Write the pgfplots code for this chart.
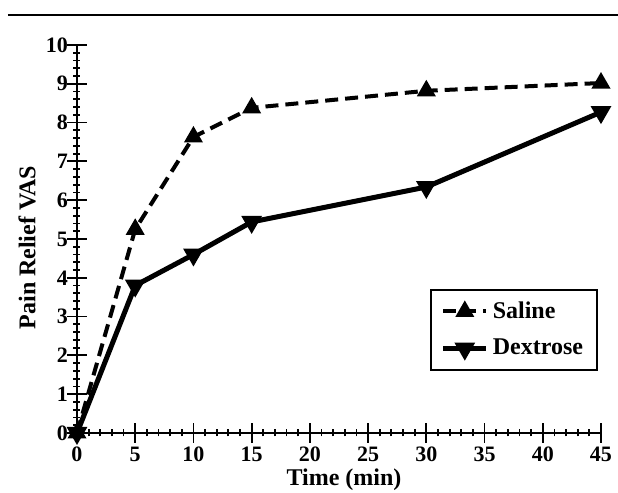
\documentclass[border=0pt]{standalone}
\usepackage{fontspec}
\setmainfont{Liberation Serif}
\usepackage{pgfplots}
\pgfplotsset{compat=1.18}
\begin{document}
\begin{tikzpicture}
\useasboundingbox (-38.5pt,-30pt) rectangle (270.5pt,216.5pt);
\draw[line width=1pt] (-34.5pt,209pt) -- (270.5pt,209pt);
\begin{axis}[
  at={(0pt,0pt)}, anchor=south west,
  scale only axis, width=262pt, height=194pt,
  xmin=0, xmax=45, ymin=0, ymax=10,
  clip=false,
  axis lines*=left,
  axis line style={line width=1pt, -},
  xtick={0,5,...,45}, ytick={0,1,...,10},
  minor x tick num=4, minor y tick num=4,
  tick align=center,
  major tick length=10pt, minor tick length=3.5pt,
  every tick/.style={black, line width=0.9pt},
  /pgf/number format/assume math mode=true,
  ticklabel style={font=\fontsize{11}{13}\selectfont\bfseries},
  xticklabel style={yshift=1.5pt},
  yticklabel style={xshift=4pt},
  xlabel={Time (min)}, ylabel={Pain Relief VAS},
  label style={font=\fontsize{12}{14}\selectfont\bfseries},
  xlabel style={at={(axis description cs:0.5095,-0.1366)}, anchor=base},
  ylabel style={at={(axis description cs:-0.0954,0.478)}, anchor=center},
  legend style={at={(axis description cs:0.9943,0.1598)}, anchor=south east,
    font=\fontsize{12}{14}\selectfont\bfseries, draw=black, line width=1pt,
    inner xsep=5pt, inner ysep=4pt, row sep=5pt},
  legend cell align=left,
  legend image code/.code={\draw[mark repeat=2,mark phase=2,#1] plot coordinates {(0pt,0pt)(10.75pt,0pt)(21.5pt,0pt)};},
]
\addplot[black, line width=2pt, dash pattern=on 6.5pt off 3.5pt, mark=triangle*, mark size=3.5pt, mark options={solid}]
  coordinates {(0,0)(5,5.25)(10,7.63)(15,8.38)(30,8.82)(45,9.02)};
\addlegendentry{Saline}
\addplot[black, line width=2.5pt, mark=triangle*, mark size=3.5pt, mark options={solid, rotate=180}]
  coordinates {(0,0)(5,3.8)(10,4.6)(15,5.44)(30,6.34)(45,8.27)};
\addlegendentry{Dextrose}
\end{axis}
\end{tikzpicture}
\end{document}
